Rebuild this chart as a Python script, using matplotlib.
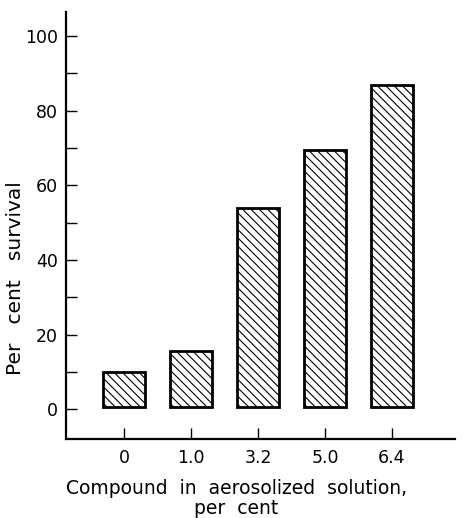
import matplotlib.pyplot as plt
from matplotlib.ticker import MultipleLocator

# data
doses = ["0", "1.0", "3.2", "5.0", "6.4"]
survival = [10, 15.5, 54, 69.5, 87]

plt.rcParams["hatch.linewidth"] = 0.8

fig = plt.figure(figsize=(4.68, 5.18), dpi=100)
ax = fig.add_axes([0.141, 0.1525, 0.831, 0.8245])

pos = list(range(len(doses)))
ax.bar(pos, [v - 0.5 for v in survival], bottom=0.5, width=0.63,
       facecolor="white", edgecolor="black", linewidth=2, hatch="\\\\\\\\")

ax.set_xlim(-0.87, 4.94)
ax.set_ylim(-8, 106.5)
ax.set_xticks(pos)
ax.set_xticklabels(doses)
ax.yaxis.set_major_locator(MultipleLocator(20))
ax.yaxis.set_minor_locator(MultipleLocator(10))
ax.set_yticks([0, 20, 40, 60, 80, 100])

for s in ["top", "right"]:
    ax.spines[s].set_visible(False)
ax.spines["left"].set_linewidth(1.6)
ax.spines["bottom"].set_linewidth(1.6)

ax.tick_params(axis="both", which="both", direction="in", length=8, width=1.0,
               labelsize=12.5)
ax.tick_params(axis="y", pad=6)
ax.tick_params(axis="x", pad=7)

# axis labels placed by hand, like in the original figure
fig.text(0.034, 0.464, "Per   cent   survival", fontsize=14.5, rotation=90,
         ha="center", va="center")
fig.text(0.505, 0.056, "Compound  in  aerosolized  solution,", fontsize=13.5,
         ha="center", va="center")
fig.text(0.505, 0.018, "per  cent", fontsize=13.5, ha="center", va="center")

plt.savefig("out.png", dpi=100)
